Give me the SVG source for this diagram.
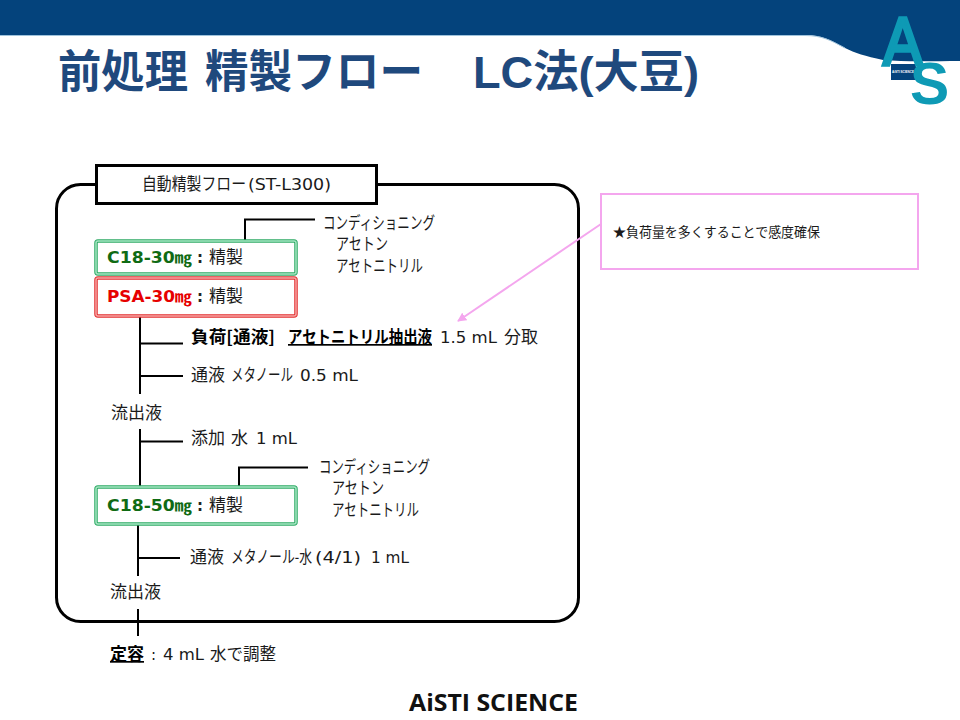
<svg xmlns="http://www.w3.org/2000/svg" width="960" height="720" viewBox="0 0 960 720">
<style>
.t{font-family:"DejaVu Sans","Noto Sans CJK JP",sans-serif;font-size:15px;fill:#1a1a1a}
.j{font-family:"Noto Sans CJK JP",sans-serif;font-size:17px;fill:#1a1a1a}
.k{font-family:"Noto Sans CJK JP",sans-serif;font-size:17px;fill:#1a1a1a}
.b{font-weight:700;fill:#000}
.title{font-family:"Liberation Sans","Noto Sans CJK JP",sans-serif;font-size:45px;font-weight:700;fill:#1f497d}
.ln{fill:none;stroke:#000;stroke-width:2}
.g{font-family:"DejaVu Sans","Noto Sans CJK JP",sans-serif;font-size:15px;font-weight:700}
.gd{fill:#fff;stroke:#2faa66;stroke-width:3.500}
.gl{fill:none;stroke:#a5e6c2;stroke-width:1.500}
.rd{fill:#fff;stroke:#e22f2f;stroke-width:3.500}
.rl{fill:none;stroke:#f7a5a5;stroke-width:1.500}
</style>
<defs><marker id="ah" viewBox="0 0 10 10" refX="9" refY="5" markerWidth="4.500" markerHeight="4.500" orient="auto"><path d="M0 0L10 5L0 10z" fill="#f4a6ee"/></marker></defs>
<g id="banner">
<path d="M0 0H960V61C935 61 905 62 883 60C865 56 855 53 845 48C830 40 822 35 805 35H0z" fill="#04437c"/>
<path d="M0 35.500H805C822 35.500 830 40 845 48" fill="none" stroke="#9fc3dc" stroke-width="1"/>
</g>
<g id="logo">
<rect x="891" y="64" width="25" height="16" fill="#04437c"/>
<text x="903" y="73" text-anchor="middle" font-family="Liberation Sans,sans-serif" font-size="3" font-weight="700" fill="#fff">AiSTI SCIENCE</text>
<text transform="translate(883 65) scale(1.230 1.420)" font-family="Liberation Sans,sans-serif" font-size="48" font-weight="400" fill="#0e9ab5" stroke="#0e9ab5" stroke-width="2.500">A</text>
<text transform="translate(910 103.500) scale(1.050 1.060)" font-family="Liberation Sans,sans-serif" font-size="56" font-weight="700" fill="#0e9ab5">S</text>
</g>
<g id="title">
<text class="title" x="58" y="88" textLength="130" lengthAdjust="spacingAndGlyphs">前処理</text>
<text class="title" x="205" y="88" textLength="218" lengthAdjust="spacingAndGlyphs">精製フロー</text>
<text class="title" x="473" y="88" textLength="226" lengthAdjust="spacingAndGlyphs">LC法(大豆)</text>
</g>
<g id="frame"><rect x="56.500" y="184.500" width="522" height="437" rx="24" fill="#fff" stroke="#000" stroke-width="3"/></g>
<g id="connectors">
<path class="ln" d="M245 240V219.500H315"/>
<path class="ln" d="M140 315V394"/>
<path class="ln" d="M140 343.500H183M140 376H183"/>
<path class="ln" d="M140 429V486M140 441.500H183"/>
<path class="ln" d="M239 486V467.500H308"/>
<path class="ln" d="M138 525V576M138 558H180"/>
<path class="ln" d="M138 609V636"/>
<path d="M601 224L458 321" fill="none" stroke="#f4a6ee" stroke-width="2" marker-end="url(#ah)"/>
</g>
<g id="header"><rect x="96.500" y="165.500" width="280" height="38" fill="#fff" stroke="#000" stroke-width="3"/>
<text class="k" x="142" y="190" textLength="104" lengthAdjust="spacingAndGlyphs">自動精製フロー</text><text class="t" x="248" y="190" textLength="83" lengthAdjust="spacingAndGlyphs">(ST-L300)</text></g>
<g id="c18-30"><rect class="gd" x="96" y="241" width="200" height="33" rx="2"/><rect class="gl" x="96" y="241" width="200" height="33" rx="2"/>
<text class="g" x="107" y="263" fill="#0f6b14" textLength="85" lengthAdjust="spacingAndGlyphs">C18-30㎎</text><text class="g" x="197" y="263" fill="#222">:</text><text class="j" x="209" y="263">精製</text></g>
<g id="psa-30"><rect class="rd" x="96" y="278" width="200" height="38" rx="2"/><rect class="rl" x="96" y="278" width="200" height="38" rx="2"/>
<text class="g" x="107" y="302" fill="#e60000" textLength="85" lengthAdjust="spacingAndGlyphs">PSA-30㎎</text><text class="g" x="197" y="302" fill="#222">:</text><text class="j" x="209" y="302">精製</text></g>
<g id="cond1"><text class="k" x="323" y="229" textLength="112" lengthAdjust="spacingAndGlyphs">コンディショニング</text><text class="k" x="336" y="250" textLength="52" lengthAdjust="spacingAndGlyphs">アセトン</text><text class="k" x="336" y="272" textLength="87" lengthAdjust="spacingAndGlyphs">アセトニトリル</text></g>
<g id="load"><text class="j b" x="191" y="343" textLength="84" lengthAdjust="spacingAndGlyphs">負荷[通液]</text><text class="j b" x="288" y="343" textLength="144" lengthAdjust="spacingAndGlyphs" text-decoration="underline">アセトニトリル抽出液</text><text class="t" x="440" y="343" textLength="57" lengthAdjust="spacingAndGlyphs">1.5 mL</text><text class="j" x="504" y="343">分取</text></g>
<g id="pass1"><text class="j" x="191" y="381">通液</text><text class="k" x="231" y="381" textLength="62" lengthAdjust="spacingAndGlyphs">メタノール</text><text class="t" x="300" y="381" textLength="58" lengthAdjust="spacingAndGlyphs">0.5 mL</text></g>
<g id="eluate1"><text class="j" x="111" y="419" textLength="51" lengthAdjust="spacingAndGlyphs">流出液</text></g>
<g id="add"><text class="j" x="191" y="444">添加</text><text class="j" x="231" y="444">水</text><text class="t" x="256" y="444" textLength="41" lengthAdjust="spacingAndGlyphs">1 mL</text></g>
<g id="cond2"><text class="k" x="319" y="473" textLength="111" lengthAdjust="spacingAndGlyphs">コンディショニング</text><text class="k" x="332" y="494" textLength="52" lengthAdjust="spacingAndGlyphs">アセトン</text><text class="k" x="332" y="516" textLength="87" lengthAdjust="spacingAndGlyphs">アセトニトリル</text></g>
<g id="c18-50"><rect class="gd" x="96" y="487" width="200" height="37" rx="2"/><rect class="gl" x="96" y="487" width="200" height="37" rx="2"/>
<text class="g" x="107" y="511" fill="#0f6b14" textLength="85" lengthAdjust="spacingAndGlyphs">C18-50㎎</text><text class="g" x="197" y="511" fill="#222">:</text><text class="j" x="209" y="511">精製</text></g>
<g id="pass2"><text class="j" x="190" y="563">通液</text><text class="k" x="231" y="563" textLength="81" lengthAdjust="spacingAndGlyphs">メタノール-水</text><text class="t" x="315" y="563" textLength="46" lengthAdjust="spacingAndGlyphs">(4/1)</text><text class="t" x="371" y="563" textLength="38" lengthAdjust="spacingAndGlyphs">1 mL</text></g>
<g id="eluate2"><text class="j" x="110" y="598" textLength="51" lengthAdjust="spacingAndGlyphs">流出液</text></g>
<g id="final"><text class="j b" x="110" y="660" textLength="34" lengthAdjust="spacingAndGlyphs" text-decoration="underline">定容</text><text class="t" x="151" y="660">:</text><text class="t" x="163" y="660" textLength="41" lengthAdjust="spacingAndGlyphs">4 mL</text><text class="j" x="210" y="660" textLength="66" lengthAdjust="spacingAndGlyphs">水で調整</text></g>
<g id="note"><rect x="601" y="194" width="317" height="75" fill="#fff" stroke="#f4a6ee" stroke-width="2"/>
<text class="j" x="613" y="237" textLength="207" lengthAdjust="spacingAndGlyphs" style="font-size:13.500px">★負荷量を多くすることで感度確保</text></g>
<g id="footer"><text x="409" y="711" font-family="Open Sans,sans-serif" font-size="24" font-weight="700" fill="#111" textLength="169" lengthAdjust="spacingAndGlyphs">AiSTI SCIENCE</text></g>
</svg>
